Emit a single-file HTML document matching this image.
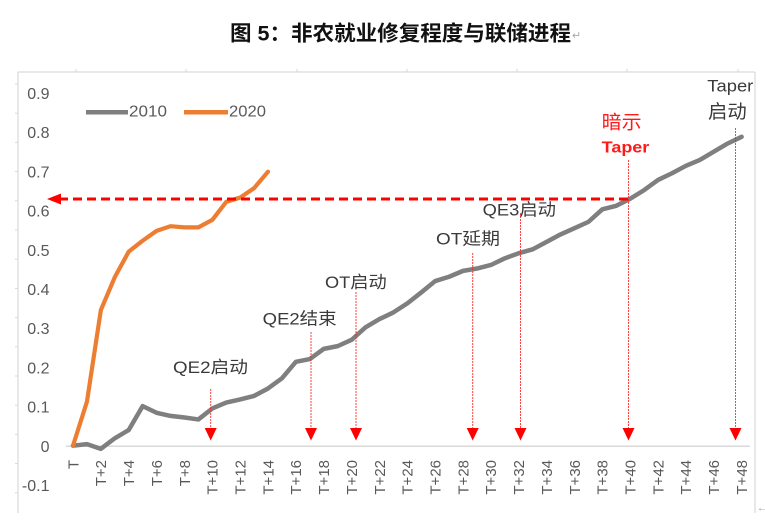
<!DOCTYPE html>
<html><head><meta charset="utf-8">
<style>
html,body{margin:0;padding:0;background:#fff;}
svg{display:block;}
text{font-family:"Liberation Sans","Noto Sans CJK SC",sans-serif;}
</style></head>
<body>
<svg width="765" height="524" viewBox="0 0 765 524" xmlns="http://www.w3.org/2000/svg">
<rect width="765" height="524" fill="#fff"/>
<!-- title -->
<text x="230" y="40.3" font-size="21" font-weight="bold" fill="#111" textLength="341" lengthAdjust="spacingAndGlyphs">图 5：非农就业修复程度与联储进程</text>
<text x="572" y="39" font-size="11" fill="#aaa">↵</text>

<!-- frame -->
<g stroke="#d9d9d9" stroke-width="1.2" fill="none">
<line x1="18" y1="72" x2="755" y2="72"/>
<line x1="18" y1="72" x2="18" y2="513"/>
<line x1="755" y1="72" x2="755" y2="513"/>
</g>
<g stroke="#d9d9d9" stroke-width="1">
<line x1="76" y1="69" x2="76" y2="72"/><line x1="186" y1="69" x2="186" y2="72"/><line x1="297" y1="69" x2="297" y2="72"/><line x1="407" y1="69" x2="407" y2="72"/><line x1="517" y1="69" x2="517" y2="72"/><line x1="627" y1="69" x2="627" y2="72"/><line x1="738" y1="69" x2="738" y2="72"/>
<line x1="15" y1="84" x2="18" y2="84"/><line x1="15" y1="113.2" x2="18" y2="113.2"/><line x1="15" y1="142.4" x2="18" y2="142.4"/><line x1="15" y1="171.6" x2="18" y2="171.6"/><line x1="15" y1="200.8" x2="18" y2="200.8"/><line x1="15" y1="230" x2="18" y2="230"/><line x1="15" y1="259.2" x2="18" y2="259.2"/><line x1="15" y1="288.4" x2="18" y2="288.4"/><line x1="15" y1="317.6" x2="18" y2="317.6"/><line x1="15" y1="346.8" x2="18" y2="346.8"/><line x1="15" y1="376" x2="18" y2="376"/><line x1="15" y1="405.2" x2="18" y2="405.2"/><line x1="15" y1="434.4" x2="18" y2="434.4"/><line x1="15" y1="463.6" x2="18" y2="463.6"/><line x1="15" y1="492.8" x2="18" y2="492.8"/>
</g>
<text x="757" y="511" font-size="10" fill="#999">←</text>

<!-- x axis line -->
<line x1="66" y1="446.2" x2="750" y2="446.2" stroke="#d9d9d9" stroke-width="1.5"/>

<!-- y labels -->
<g font-size="16" fill="#595959" text-anchor="end">
<text x="49.5" y="99">0.9</text>
<text x="49.5" y="138.2">0.8</text>
<text x="49.5" y="177.4">0.7</text>
<text x="49.5" y="216.6">0.6</text>
<text x="49.5" y="255.8">0.5</text>
<text x="49.5" y="295">0.4</text>
<text x="49.5" y="334.2">0.3</text>
<text x="49.5" y="373.4">0.2</text>
<text x="49.5" y="412.6">0.1</text>
<text x="49.5" y="451.8">0</text>
<text x="49.5" y="491">-0.1</text>
</g>

<!-- x labels -->
<g font-size="15" fill="#595959" text-anchor="end">
<text transform="translate(73,460) rotate(-90)" dy="5.3">T</text>
<text transform="translate(100.86,460) rotate(-90)" dy="5.3">T+2</text>
<text transform="translate(128.72,460) rotate(-90)" dy="5.3">T+4</text>
<text transform="translate(156.58,460) rotate(-90)" dy="5.3">T+6</text>
<text transform="translate(184.44,460) rotate(-90)" dy="5.3">T+8</text>
<text transform="translate(212.3,460) rotate(-90)" dy="5.3">T+10</text>
<text transform="translate(240.16,460) rotate(-90)" dy="5.3">T+12</text>
<text transform="translate(268.02,460) rotate(-90)" dy="5.3">T+14</text>
<text transform="translate(295.88,460) rotate(-90)" dy="5.3">T+16</text>
<text transform="translate(323.74,460) rotate(-90)" dy="5.3">T+18</text>
<text transform="translate(351.6,460) rotate(-90)" dy="5.3">T+20</text>
<text transform="translate(379.46,460) rotate(-90)" dy="5.3">T+22</text>
<text transform="translate(407.32,460) rotate(-90)" dy="5.3">T+24</text>
<text transform="translate(435.18,460) rotate(-90)" dy="5.3">T+26</text>
<text transform="translate(463.04,460) rotate(-90)" dy="5.3">T+28</text>
<text transform="translate(490.9,460) rotate(-90)" dy="5.3">T+30</text>
<text transform="translate(518.76,460) rotate(-90)" dy="5.3">T+32</text>
<text transform="translate(546.62,460) rotate(-90)" dy="5.3">T+34</text>
<text transform="translate(574.48,460) rotate(-90)" dy="5.3">T+36</text>
<text transform="translate(602.34,460) rotate(-90)" dy="5.3">T+38</text>
<text transform="translate(630.2,460) rotate(-90)" dy="5.3">T+40</text>
<text transform="translate(658.06,460) rotate(-90)" dy="5.3">T+42</text>
<text transform="translate(685.92,460) rotate(-90)" dy="5.3">T+44</text>
<text transform="translate(713.78,460) rotate(-90)" dy="5.3">T+46</text>
<text transform="translate(741.64,460) rotate(-90)" dy="5.3">T+48</text>
</g>

<!-- legend -->
<line x1="86" y1="112.3" x2="128" y2="112.3" stroke="#7f7f7f" stroke-width="4.5"/>
<text x="129" y="116.5" font-size="16" fill="#595959" textLength="38" lengthAdjust="spacingAndGlyphs">2010</text>
<line x1="184" y1="112.3" x2="228" y2="112.3" stroke="#ed7d31" stroke-width="4.5"/>
<text x="229" y="116.5" font-size="16" fill="#595959" textLength="37" lengthAdjust="spacingAndGlyphs">2020</text>

<!-- series -->
<g transform="translate(73,445.7) scale(13.93,-392)">
<polyline fill="none" stroke="#7f7f7f" stroke-width="4.5" stroke-linejoin="round" stroke-linecap="round" vector-effect="non-scaling-stroke"
points="0,0 1,0.004 2,-0.008 3,0.019 4,0.04 5,0.101 6,0.084 7,0.076 8,0.072 9,0.067 10,0.095 11,0.11 12,0.118 13,0.127 14,0.146 15,0.172 16,0.214 17,0.221 18,0.247 19,0.254 20,0.27 21,0.302 22,0.323 23,0.34 24,0.363 25,0.391 26,0.42 27,0.431 28,0.446 29,0.452 30,0.461 31,0.478 32,0.491 33,0.501 34,0.52 35,0.539 36,0.555 37,0.571 38,0.603 39,0.612 40,0.63 41,0.652 42,0.678 43,0.695 44,0.714 45,0.729 46,0.75 47,0.771 48,0.788"/>
<polyline fill="none" stroke="#ed7d31" stroke-width="4.2" stroke-linejoin="round" stroke-linecap="round" vector-effect="non-scaling-stroke"
points="0,0 1,0.112 2,0.346 3,0.43 4,0.495 5,0.523 6,0.548 7,0.56 8,0.557 9,0.557 10,0.576 11,0.622 12,0.633 13,0.657 14,0.699"/>
</g>

<!-- horizontal red arrow -->
<line x1="628" y1="199" x2="61" y2="199" stroke="#ff0000" stroke-width="3" stroke-dasharray="9 5"/>
<polygon points="47,199 61,193.5 61,204.5" fill="#ff0000"/>

<!-- vertical red arrows -->
<g stroke="#ff2020" stroke-width="1" stroke-dasharray="2 1" opacity="0.85">
<line x1="210.7" y1="389" x2="210.7" y2="430"/>
<line x1="311" y1="332" x2="311" y2="430"/>
<line x1="356" y1="292" x2="356" y2="430"/>
<line x1="472.7" y1="253" x2="472.7" y2="430"/>
<line x1="520.5" y1="213" x2="520.5" y2="430"/>
<line x1="628.5" y1="160" x2="628.5" y2="430"/>
<line x1="735.5" y1="128" x2="735.5" y2="430"/>
</g>
<g fill="#ff0000">
<polygon points="204.7,428 216.7,428 210.7,440.5"/>
<polygon points="305,428 317,428 311,440.5"/>
<polygon points="350,428 362,428 356,440.5"/>
<polygon points="466.7,428 478.7,428 472.7,440.5"/>
<polygon points="514.5,428 526.5,428 520.5,440.5"/>
<polygon points="622.5,428 634.5,428 628.5,440.5"/>
<polygon points="729.5,428 741.5,428 735.5,440.5"/>
</g>

<!-- annotations -->
<g font-size="17" fill="#3a3a3a">
<text x="173" y="373" textLength="75" lengthAdjust="spacingAndGlyphs">QE2启动</text>
<text x="262.7" y="324.5" textLength="74" lengthAdjust="spacingAndGlyphs">QE2结束</text>
<text x="325" y="288" textLength="61.7" lengthAdjust="spacingAndGlyphs">OT启动</text>
<text x="436" y="244.5" textLength="64" lengthAdjust="spacingAndGlyphs">OT延期</text>
<text x="482.7" y="215.5" textLength="73.3" lengthAdjust="spacingAndGlyphs">QE3启动</text>
<text x="707.3" y="91.5" textLength="46" lengthAdjust="spacingAndGlyphs">Taper</text>
<text x="708" y="118" font-size="19" textLength="38.7" lengthAdjust="spacingAndGlyphs">启动</text>
</g>
<text x="601.7" y="128.5" font-size="19" fill="#ff1a1a" textLength="40" lengthAdjust="spacingAndGlyphs">暗示</text>
<text x="601.7" y="152.5" font-size="16" font-weight="bold" fill="#ff1a1a" textLength="47.6" lengthAdjust="spacingAndGlyphs">Taper</text>
</svg>
</body></html>
